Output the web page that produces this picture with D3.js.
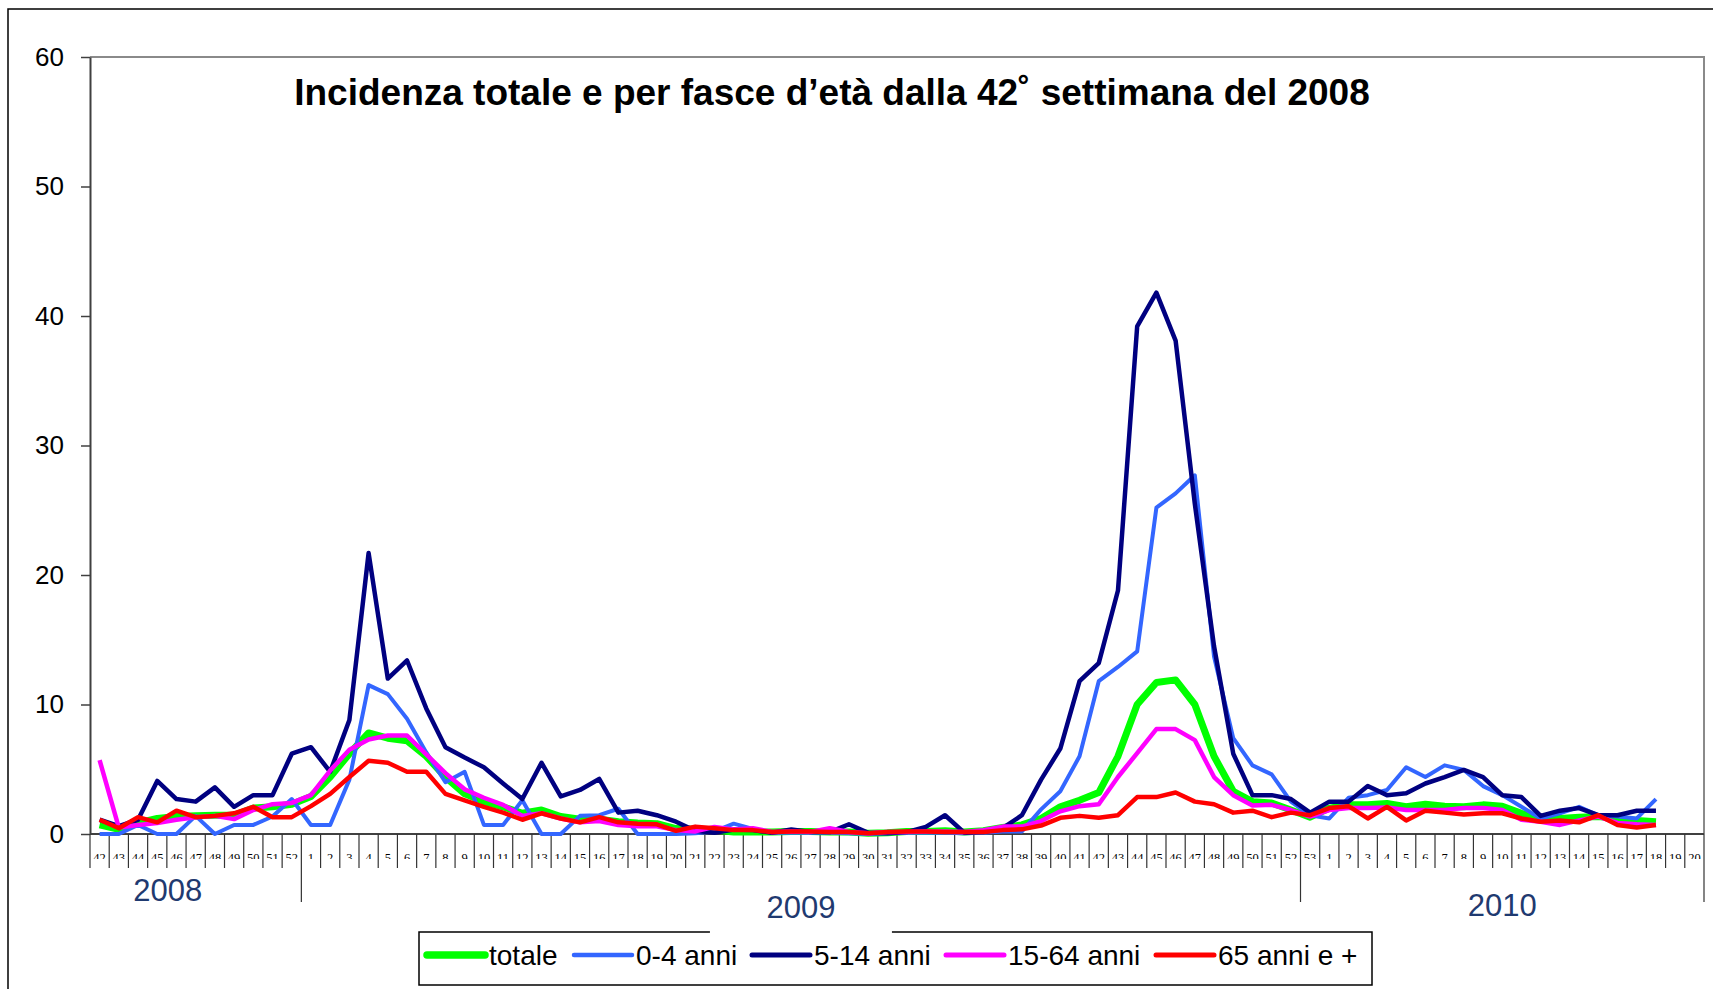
<!DOCTYPE html>
<html>
<head>
<meta charset="utf-8">
<script src="https://cdn.jsdelivr.net/npm/d3@7"></script>
<style>
  body { margin: 0; background: #fff; }
  svg { display: block; }
</style>
</head>
<body>
<svg id="chart" width="1713" height="989"></svg>
<script>
// week labels on the x axis (2008 w42 .. 2010 w20)
const weeks = ["42","43","44","45","46","47","48","49","50","51","52",
  "1","2","3","4","5","6","7","8","9","10","11","12","13","14","15","16","17","18","19","20",
  "21","22","23","24","25","26","27","28","29","30","31","32","33","34","35","36","37","38","39","40",
  "41","42","43","44","45","46","47","48","49","50","51","52",
  "53","1","2","3","4","5","6","7","8","9","10","11","12","13","14","15","16","17","18","19","20"];
const years = ["2008", "2009", "2010"];
const yearWeekCount = [11, 52, 21];
const yTicks = [0, 10, 20, 30, 40, 50, 60];

const totale = [0.7,0.35,0.85,1.2,1.35,1.4,1.45,1.45,2.0,2.1,2.3,
  2.9,4.4,6.2,7.8,7.4,7.2,6.0,4.4,3.1,2.5,2.1,1.6,1.85,1.35,1.15,1.15,0.95,0.85,0.8,0.42,
  0.36,0.3,0.15,0.15,0.15,0.2,0.2,0.15,0.15,0.05,0.1,0.2,0.2,0.25,0.15,0.25,0.5,0.7,1.2,2.1,
  2.6,3.2,6.0,10.0,11.7,11.9,10.0,6.0,3.3,2.5,2.4,1.85,
  1.3,2.0,2.25,2.25,2.35,2.1,2.3,2.15,2.1,2.25,2.15,1.6,1.2,1.2,1.3,1.35,1.2,1.05,0.95];
const anni0_4 = [0,0,0.7,0,0,1.4,0,0.7,0.7,1.35,2.7,
  0.7,0.7,4.2,11.5,10.8,8.9,6.3,4.0,4.8,0.7,0.7,2.6,0,0,1.4,1.45,1.95,0,0,0,
  0.05,0.2,0.8,0.4,0.1,0.1,0.1,0.1,0.05,0,0.05,0.1,0.1,0.1,0.05,0.1,0.2,0.2,1.9,3.3,
  6.0,11.8,12.9,14.1,25.2,26.3,27.7,13.7,7.4,5.3,4.6,2.5,
  1.45,1.2,2.8,3.0,3.4,5.15,4.4,5.3,4.95,3.7,3.0,2.1,1.2,1.6,2.1,1.45,1.35,1.2,2.7];
const anni5_14 = [1.1,0.6,1.1,4.1,2.7,2.5,3.6,2.1,3.0,3.0,6.2,
  6.7,4.8,8.8,21.7,12.0,13.4,9.7,6.7,5.9,5.15,3.9,2.7,5.5,2.9,3.4,4.25,1.65,1.8,1.45,0.95,
  0.25,0.1,0.35,0.3,0.1,0.35,0.15,0.15,0.75,0.1,0.05,0.15,0.55,1.45,0.1,0.15,0.45,1.45,4.2,6.6,
  11.8,13.2,18.8,39.2,41.8,38.1,25.5,14.5,6.2,3.0,3.0,2.7,
  1.65,2.5,2.5,3.7,3.0,3.15,3.9,4.4,4.95,4.4,3.0,2.85,1.4,1.8,2.0,1.45,1.45,1.8,1.8];
const anni15_64 = [5.7,0.5,0.7,0.85,1.1,1.3,1.4,1.15,1.85,2.3,2.4,
  3.0,4.9,6.5,7.3,7.6,7.6,6.15,4.7,3.45,2.8,2.25,1.4,1.6,1.2,0.9,1.0,0.7,0.6,0.6,0.3,
  0.2,0.55,0.35,0.45,0.15,0.2,0.15,0.45,0.15,0.05,0.15,0.15,0.2,0.2,0.15,0.3,0.57,0.57,1.0,1.75,
  2.15,2.3,4.4,6.25,8.1,8.1,7.25,4.4,3.0,2.2,2.25,1.85,
  1.35,1.85,2.0,2.0,2.05,1.85,1.85,1.85,2.0,2.0,1.85,1.1,0.95,0.7,1.05,1.35,0.85,0.75,0.7];
const anni65 = [1.1,0.45,1.3,0.9,1.8,1.3,1.4,1.6,2.1,1.3,1.3,
  2.15,3.1,4.4,5.65,5.5,4.8,4.8,3.1,2.6,2.1,1.65,1.1,1.6,1.2,0.9,1.3,0.9,0.8,0.75,0.25,
  0.57,0.45,0.3,0.3,0.15,0.2,0.2,0.15,0.15,0.05,0.15,0.2,0.2,0.15,0.15,0.15,0.3,0.36,0.65,1.25,
  1.4,1.25,1.45,2.85,2.85,3.2,2.5,2.3,1.65,1.8,1.3,1.65,
  1.45,2.0,2.15,1.2,2.1,1.05,1.8,1.65,1.5,1.6,1.6,1.2,0.95,1.05,0.9,1.45,0.7,0.5,0.7];

const seriesNames = ["totale", "0-4 anni", "5-14 anni", "15-64 anni", "65 anni e +"];
const seriesValues = [totale, anni0_4, anni5_14, anni15_64, anni65];
const seriesColors = ["#00ff00", "#3366ff", "#000080", "#ff00ff", "#ff0000"];
const seriesWidths = [7, 4, 4.5, 4.5, 4.5];

const svg = d3.select("#chart");
const plotLeft = 90, plotRight = 1704, plotTop = 57, plotBottom = 834;

let x = d3.scaleBand().domain(d3.range(weeks.length)).range([plotLeft, plotRight]);
let y = d3.scaleLinear().domain([0, 60]).range([plotBottom, plotTop]);

// outer frame
svg.append("rect")
  .attr("x", 8).attr("y", 9)
  .attr("width", 1730).attr("height", 1010)
  .attr("fill", "none").attr("stroke", "#000").attr("stroke-width", 1.5);

// plot frame (top / right in grey)
svg.append("path")
  .attr("d", `M${plotLeft},${plotTop}H${plotRight}V${plotBottom}`)
  .attr("fill", "none").attr("stroke", "#8a8a8a").attr("stroke-width", 2);

// y axis
let yAxis = svg.append("g")
  .attr("transform", `translate(${plotLeft},0)`)
  .call(d3.axisLeft(y).tickValues(yTicks).tickSize(9).tickPadding(17).tickSizeOuter(0));
yAxis.select(".domain").attr("stroke", "#404040").attr("stroke-width", 2);
yAxis.selectAll(".tick line").attr("stroke", "#404040").attr("stroke-width", 1.5);
yAxis.selectAll(".tick text")
  .attr("font-family", "Arial, 'Liberation Sans', sans-serif")
  .attr("font-size", 26).attr("fill", "#000");

// x axis line
svg.append("line")
  .attr("x1", plotLeft).attr("x2", plotRight).attr("y1", plotBottom).attr("y2", plotBottom)
  .attr("stroke", "#404040").attr("stroke-width", 2);

// category boundaries
let bounds = d3.range(weeks.length + 1);
let yearStarts = [0];
yearWeekCount.forEach(function (n, i) { yearStarts.push(yearStarts[i] + n); });
let xb = function (k) { return k < weeks.length ? x(k) : x(weeks.length - 1) + x.bandwidth(); };

svg.append("g").selectAll("line")
  .data(bounds)
  .enter()
  .append("line")
  .attr("x1", d => xb(d)).attr("x2", d => xb(d))
  .attr("y1", plotBottom)
  .attr("y2", d => (d > 0 && yearStarts.indexOf(d) >= 0) ? 902 : 868)
  .attr("stroke", "#333").attr("stroke-width", 1.2);

// week labels (clipped at the bottom like the original)
svg.append("clipPath").attr("id", "wk-clip")
  .append("rect").attr("x", 0).attr("y", 836).attr("width", 1713).attr("height", 23);

svg.append("g")
  .attr("clip-path", "url(#wk-clip)")
  .selectAll("text")
  .data(weeks)
  .enter()
  .append("text")
  .attr("x", (d, i) => x(i) + x.bandwidth() / 2)
  .attr("y", 862)
  .attr("text-anchor", "middle")
  .attr("font-family", "'Liberation Serif', 'Times New Roman', serif")
  .attr("font-size", 12.5)
  .attr("fill", "#000")
  .text(d => d);

// legend box
const legendLeft = 419, legendTop = 932, legendW = 953, legendH = 53;
svg.append("rect")
  .attr("x", legendLeft).attr("y", legendTop)
  .attr("width", legendW).attr("height", legendH)
  .attr("fill", "#fff").attr("stroke", "#000").attr("stroke-width", 1.5);

// year labels
const yearLabelShift = [-28, 0, 0];
const yearLabelY = [901, 918, 916];
years.forEach(function (yr, i) {
  let cx = (xb(yearStarts[i]) + xb(yearStarts[i + 1])) / 2 + yearLabelShift[i];
  if (i === 1) {
    svg.append("rect")
      .attr("x", cx - 91).attr("y", 888).attr("width", 182).attr("height", 46)
      .attr("fill", "#fff");
  }
  svg.append("text")
    .attr("x", cx).attr("y", yearLabelY[i])
    .attr("text-anchor", "middle")
    .attr("font-family", "Arial, 'Liberation Sans', sans-serif")
    .attr("font-size", 31)
    .attr("fill", "#1f3a70")
    .text(yr);
});

// series lines
let line = d3.line()
  .x((d, i) => x(i) + x.bandwidth() / 2)
  .y(d => y(d))
  .curve(d3.curveLinear);

svg.append("g").selectAll("path")
  .data(seriesValues)
  .enter()
  .append("path")
  .attr("d", d => line(d))
  .attr("fill", "none")
  .attr("stroke", (d, i) => seriesColors[i])
  .attr("stroke-width", (d, i) => seriesWidths[i])
  .attr("stroke-linejoin", "round");

// title
svg.append("text")
  .attr("x", 832).attr("y", 105)
  .attr("text-anchor", "middle")
  .attr("font-family", "Arial, 'Liberation Sans', sans-serif")
  .attr("font-weight", "bold")
  .attr("font-size", 37)
  .attr("fill", "#000")
  .text("Incidenza totale e per fasce d\u2019et\u00e0 dalla 42\u02da settimana del 2008");

// legend entries
const legendSwatchX = [427, 574, 752, 946, 1156];
let entries = svg.append("g").selectAll("g")
  .data(seriesNames)
  .enter()
  .append("g");
entries.append("line")
  .attr("x1", (d, i) => legendSwatchX[i]).attr("x2", (d, i) => legendSwatchX[i] + 58)
  .attr("y1", 955).attr("y2", 955)
  .attr("stroke", (d, i) => seriesColors[i])
  .attr("stroke-width", (d, i) => seriesWidths[i] + 0.5)
  .attr("stroke-linecap", "round");
entries.append("text")
  .attr("x", (d, i) => legendSwatchX[i] + 62)
  .attr("y", 965)
  .attr("font-family", "Arial, 'Liberation Sans', sans-serif")
  .attr("font-size", 28)
  .attr("fill", "#000")
  .text(d => d);
</script>
</body>
</html>
